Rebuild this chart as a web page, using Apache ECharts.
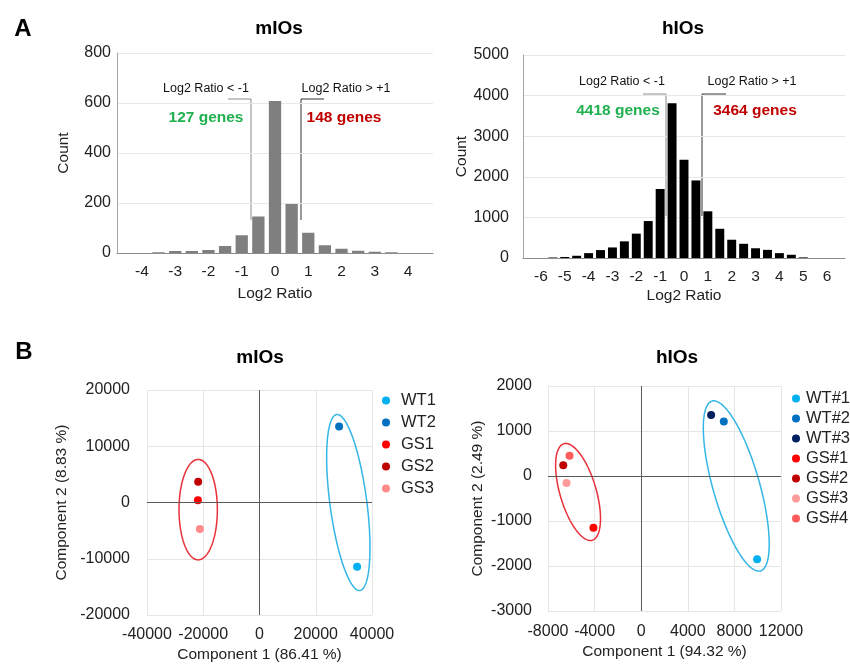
<!DOCTYPE html>
<html>
<head>
<meta charset="utf-8">
<script src="https://cdn.jsdelivr.net/npm/echarts@6/dist/echarts.min.js"></script>
<style>
html, body { margin: 0; padding: 0; background: #fff; }
#chart { width: 850px; height: 664px; }
</style>
</head>
<body>
<div id="chart"></div>
<script>
// A: log2 ratio histograms (bins every 0.5)
var mBins = ['-4.5', '-4', '-3.5', '-3', '-2.5', '-2', '-1.5', '-1', '-0.5', '0', '0.5', '1', '1.5', '2', '2.5', '3', '3.5', '4', '4.5'];
var mCounts = [0, 0, 3, 8, 8, 12, 28, 71, 146, 608, 196, 81, 31, 17, 9, 5, 3, 0, 0];

var hBins = ['-6.5', '-6', '-5.5', '-5', '-4.5', '-4', '-3.5', '-3', '-2.5', '-2', '-1.5', '-1', '-0.5', '0',
    '0.5', '1', '1.5', '2', '2.5', '3', '3.5', '4', '4.5', '5', '5.5', '6', '6.5'];
var hCounts = [0, 0, 12, 25, 55, 120, 195, 260, 410, 600, 910, 1700, 3810, 2420,
    1910, 1150, 720, 450, 350, 240, 200, 120, 80, 15, 0, 0, 0];

// B: PCA scores
var mSamples = ['WT1', 'WT2', 'GS1', 'GS2', 'GS3'];
var mPC1 = [34700, 28300, -21900, -21800, -21200];
var mPC2 = [-11400, 13500, 400, 3700, -4700];

var hSamples = ['WT#1', 'WT#2', 'WT#3', 'GS#1', 'GS#2', 'GS#3', 'GS#4'];
var hPC1 = [9950, 7090, 6000, -4100, -6690, -6410, -6150];
var hPC2 = [-1850, 1210, 1355, -1150, 240, -155, 450];

// group ellipses: centre, two conjugate semi-axes (data units)
var mEllipses = [
    [-21800, -1270, 0, 8930, 6820, 0],
    [31580, 0, -4125, 15650, 6510, 423]
];
var hEllipses = [
    [-5420, -355, -1218, 1072, 1493, 113],
    [8160, -222, -2076, 1887, 1922, 142]
];

var mColors = ['#00b0f0', '#0070c0', '#ff0000', '#c00000', '#ff8b8b'];
var hColors = ['#00b0f0', '#0070c0', '#002060', '#ff0000', '#c00000', '#ff9a9a', '#ff5b5b'];
var ellColors = ['#e8313a', '#35b6e6'];

var FONT = '"Liberation Sans", Arial, sans-serif';

function ellipseItem(params, api) {
    var cx = api.value(0), cy = api.value(1);
    var ux = api.value(2), uy = api.value(3), vx = api.value(4), vy = api.value(5);
    var pts = [];
    for (var k = 0; k <= 120; k++) {
        var t = k / 120 * Math.PI * 2;
        pts.push(api.coord([cx + ux * Math.cos(t) + vx * Math.sin(t), cy + uy * Math.cos(t) + vy * Math.sin(t)]));
    }
    return {
        type: 'polyline',
        shape: { points: pts },
        style: { stroke: api.visual('color'), fill: 'none', lineWidth: 1.5 }
    };
}

function isWhole(idx, val) {
    return Number(val) % 1 === 0;
}
function plain(v) {
    return String(v);
}

function histX(idx, data) {
    return {
        type: 'category', gridIndex: idx, data: data,
        name: 'Log2 Ratio', nameLocation: 'middle', nameGap: idx === 0 ? 33 : 30,
        nameTextStyle: { fontSize: 15.5, color: '#222', fontFamily: FONT },
        axisTick: { show: false },
        axisLine: { lineStyle: { color: '#8c8c8c' } },
        axisLabel: { interval: isWhole, fontSize: 15.5, color: '#222', fontFamily: FONT, margin: 11 }
    };
}

function histY(idx, max, step) {
    return {
        type: 'value', gridIndex: idx, min: 0, max: max, interval: step,
        name: 'Count', nameLocation: 'middle', nameGap: idx === 0 ? 45 : 50,
        nameTextStyle: { fontSize: 15.5, color: '#222', fontFamily: FONT },
        axisLine: { show: true, lineStyle: { color: '#a6a6a6' } },
        axisTick: { show: false },
        splitLine: { lineStyle: { color: '#e8e8e8' } },
        axisLabel: { formatter: plain, fontSize: 16, color: '#222', fontFamily: FONT, margin: idx === 0 ? 6 : 14 }
    };
}

function pcaAxis(idx, min, max, step, name, gap, margin) {
    return {
        type: 'value', gridIndex: idx, min: min, max: max, interval: step,
        name: name, nameLocation: 'middle', nameGap: gap,
        nameTextStyle: { fontSize: 15.5, color: '#222', fontFamily: FONT },
        axisLine: { show: false, onZero: false },
        axisTick: { show: false },
        splitLine: { lineStyle: { color: '#e6e6e6' } },
        axisLabel: { formatter: plain, fontSize: 16, color: '#222', fontFamily: FONT, margin: margin }
    };
}

var zeroLines = {
    silent: true, symbol: 'none', label: { show: false },
    lineStyle: { color: '#5a5a5a', type: 'solid', width: 1 },
    data: [{ xAxis: 0 }, { yAxis: 0 }]
};

var series = [
    { type: 'bar', xAxisIndex: 0, yAxisIndex: 0, data: mCounts, barCategoryGap: '26%', itemStyle: { color: '#7f7f7f' } },
    { type: 'bar', xAxisIndex: 1, yAxisIndex: 1, data: hCounts, barCategoryGap: '25%', itemStyle: { color: '#000' } },
    {
        type: 'custom', xAxisIndex: 2, yAxisIndex: 2, renderItem: ellipseItem, encode: { x: 0, y: 1 },
        data: mEllipses.map(function (e, i) { return { value: e, itemStyle: { color: ellColors[i] } }; })
    },
    {
        type: 'custom', xAxisIndex: 3, yAxisIndex: 3, renderItem: ellipseItem, encode: { x: 0, y: 1 },
        data: hEllipses.map(function (e, i) { return { value: e, itemStyle: { color: ellColors[i] } }; })
    }
];

mSamples.forEach(function (s, i) {
    var sr = { type: 'scatter', name: s, xAxisIndex: 2, yAxisIndex: 2, symbolSize: 8,
        itemStyle: { color: mColors[i], opacity: 1 }, data: [[mPC1[i], mPC2[i]]] };
    if (i === 0) sr.markLine = zeroLines;
    series.push(sr);
});
hSamples.forEach(function (s, i) {
    var sr = { type: 'scatter', name: s, xAxisIndex: 3, yAxisIndex: 3, symbolSize: 8,
        itemStyle: { color: hColors[i], opacity: 1 }, data: [[hPC1[i], hPC2[i]]] };
    if (i === 0) sr.markLine = zeroLines;
    series.push(sr);
});

function txt(x, y, s, size, color, bold) {
    return {
        type: 'text', x: x, y: y,
        style: { text: s, align: 'center', verticalAlign: 'middle', fontSize: size, fontFamily: FONT,
            fontWeight: bold ? 'bold' : 'normal', fill: color }
    };
}
function bracket(pts, color) {
    return { type: 'polyline', shape: { points: pts }, style: { stroke: color, fill: 'none', lineWidth: 1 } };
}

var option = {
    animation: false,
    backgroundColor: '#fff',
    textStyle: { fontFamily: FONT },
    grid: [
        { left: 117, top: 53, width: 316, height: 200 },
        { left: 523, top: 55, width: 322, height: 203 },
        { left: 147, top: 390, width: 225, height: 227 },
        { left: 548, top: 386, width: 233, height: 225 }
    ],
    xAxis: [
        histX(0, mBins),
        histX(1, hBins),
        pcaAxis(2, -40000, 40000, 20000, 'Component 1 (86.41 %)', 32, 12),
        pcaAxis(3, -8000, 12000, 4000, 'Component 1 (94.32 %)', 33, 13)
    ],
    yAxis: [
        histY(0, 800, 200),
        histY(1, 5000, 1000),
        pcaAxis(2, -20000, 20000, 10000, 'Component 2 (8.83 %)', 77, 17),
        pcaAxis(3, -3000, 2000, 1000, 'Component 2 (2.49 %)', 62, 16)
    ],
    legend: [
        { data: mSamples, orient: 'vertical', left: 377, top: 387, icon: 'circle',
            itemWidth: 20, itemHeight: 8, itemGap: 5,
            textStyle: { fontSize: 16.5, lineHeight: 16, color: '#222', fontFamily: FONT } },
        { data: hSamples, orient: 'vertical', left: 787, top: 385, icon: 'circle',
            itemWidth: 10, itemHeight: 8, itemGap: 3,
            textStyle: { fontSize: 16.5, lineHeight: 16, color: '#222', fontFamily: FONT } }
    ],
    graphic: [
        txt(23, 29, 'A', 24, '#000', true),
        txt(24, 352, 'B', 24, '#000', true),
        txt(279, 29, 'mIOs', 19, '#000', true),
        txt(683, 29, 'hIOs', 19, '#000', true),
        txt(260, 358, 'mIOs', 19, '#000', true),
        txt(677, 358, 'hIOs', 19, '#000', true),

        txt(206, 89, 'Log2 Ratio < -1', 12.5, '#111', false),
        txt(346, 89, 'Log2 Ratio > +1', 12.5, '#111', false),
        bracket([[228, 99], [251, 99], [251, 220]], '#8a8a8a'),
        bracket([[324, 99], [301, 99], [301, 220]], '#333'),
        txt(206, 118, '127 genes', 15.5, '#1fb04f', true),
        txt(344, 118, '148 genes', 15.5, '#c00000', true),

        txt(622, 82, 'Log2 Ratio < -1', 12.5, '#111', false),
        txt(752, 82, 'Log2 Ratio > +1', 12.5, '#111', false),
        bracket([[643, 94], [666, 94], [666, 216]], '#8a8a8a'),
        bracket([[726, 94], [702, 94], [702, 216]], '#333'),
        txt(618, 111, '4418 genes', 15.5, '#1fb04f', true),
        txt(755, 111, '3464 genes', 15.5, '#c00000', true)
    ],
    series: series
};

var chart = echarts.init(document.getElementById('chart'));
chart.setOption(option);
</script>
</body>
</html>
